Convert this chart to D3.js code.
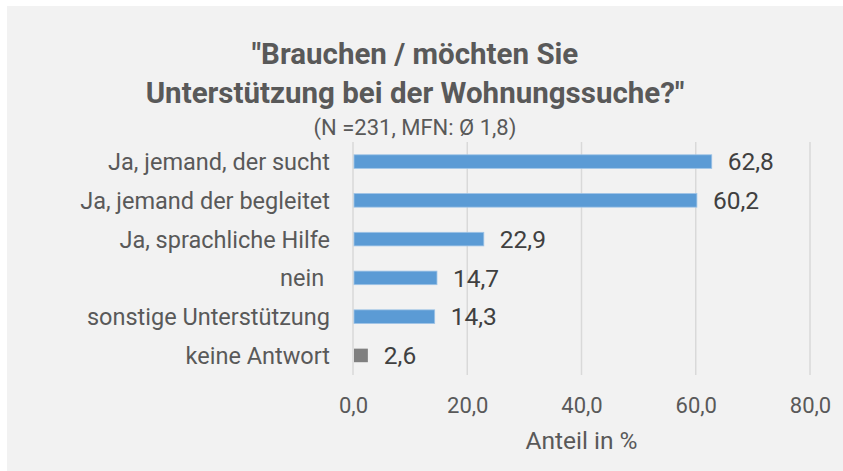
<!DOCTYPE html>
<html>
<head>
<meta charset="utf-8">
<script src="https://cdn.jsdelivr.net/npm/d3@7"></script>
<style>
	body { margin: 0; background: #fff; }
	svg { display: block; font-family: Roboto, "Open Sans", sans-serif; }
</style>
</head>
<body>
<div id="chart"></div>
<script>
// Daten
const kategorien = [
	"Ja, jemand, der sucht",
	"Ja, jemand der begleitet",
	"Ja, sprachliche Hilfe",
	"nein ",
	"sonstige Unterstützung",
	"keine Antwort"
];
const anteile = [62.8, 60.2, 22.9, 14.7, 14.3, 2.6];
const farben = ["#5b9bd5", "#5b9bd5", "#5b9bd5", "#5b9bd5", "#5b9bd5", "#808080"];
const xTicks = [0, 20, 40, 60, 80];
const titelZeilen = ["\"Brauchen / möchten Sie", "Unterstützung bei der Wohnungssuche?\""];
const untertitel = "(N =231, MFN: Ø 1,8)";
const achsenTitel = "Anteil in %";

const width = 843, height = 471;
const plot = { left: 353, right: 810, top: 142, bottom: 375 };

const fmt = v => d3.format(".1f")(v).replace(".", ",");

const svg = d3.select("#chart").append("svg")
	.attr("width", width)
	.attr("height", height);

// Hintergrund
svg.append("rect")
	.attr("x", 7).attr("y", 6)
	.attr("width", width - 7).attr("height", height - 6)
	.attr("fill", "#f2f2f2");

const x = d3.scaleLinear().domain([0, 80]).range([plot.left, plot.right]);
const y = d3.scaleBand().domain(kategorien).range([plot.top, plot.bottom]).paddingInner(0.65).paddingOuter(0.33);

// Gitter
svg.append("g")
	.selectAll("line")
	.data(xTicks)
	.join("line")
	.attr("x1", d => x(d)).attr("x2", d => x(d))
	.attr("y1", plot.top).attr("y2", plot.bottom)
	.attr("stroke", "#d9d9d9")
	.attr("stroke-width", 1.5);

// Balken
svg.append("g")
	.selectAll("rect")
	.data(kategorien)
	.join("rect")
	.attr("x", x(0) + 1)
	.attr("y", d => y(d))
	.attr("width", (d, i) => x(anteile[i]) - x(0) - 1)
	.attr("height", y.bandwidth())
	.attr("fill", (d, i) => farben[i])
	.attr("stroke", (d, i) => i < 5 ? "#9dc3e6" : "none")
	.attr("stroke-width", 0.8);

// Werte
svg.append("g")
	.selectAll("text")
	.data(kategorien)
	.join("text")
	.attr("x", (d, i) => x(anteile[i]) + 16)
	.attr("y", d => y(d) + y.bandwidth() / 2)
	.attr("dy", "0.36em")
	.attr("font-size", 24.5)
	.attr("fill", "#404040")
	.text((d, i) => fmt(anteile[i]));

// Kategorien
svg.append("g")
	.selectAll("text")
	.data(kategorien)
	.join("text")
	.attr("x", 330)
	.attr("y", d => y(d) + y.bandwidth() / 2)
	.attr("dy", "0.36em")
	.attr("text-anchor", "end")
	.attr("font-size", 23.5)
	.attr("fill", "#595959")
	.style("white-space", "pre")
	.text(d => d);

// x-Achse
const xAxis = d3.axisBottom(x).tickValues(xTicks).tickSize(0).tickPadding(0).tickFormat(fmt);
const gx = svg.append("g")
	.attr("transform", `translate(0, ${plot.bottom})`)
	.call(xAxis);
gx.select(".domain").remove();
gx.selectAll("text")
	.attr("y", 30)
	.attr("dy", "0.36em")
	.attr("font-family", "Roboto, sans-serif")
	.attr("font-size", 22)
	.attr("fill", "#595959");

svg.append("text")
	.attr("x", x(40))
	.attr("y", 449)
	.attr("text-anchor", "middle")
	.attr("font-size", 24.5)
	.attr("fill", "#595959")
	.text(achsenTitel);

// Titel
svg.append("g")
	.selectAll("text")
	.data(titelZeilen)
	.join("text")
	.attr("x", 415)
	.attr("y", (d, i) => 63.5 + i * 39)
	.attr("text-anchor", "middle")
	.attr("font-size", 29.5)
	.attr("font-weight", "bold")
	.attr("fill", "#595959")
	.text(d => d);

svg.append("text")
	.attr("x", 415)
	.attr("y", 135)
	.attr("text-anchor", "middle")
	.attr("font-size", 22)
	.attr("fill", "#595959")
	.style("white-space", "pre")
	.text(untertitel);
</script>
</body>
</html>
